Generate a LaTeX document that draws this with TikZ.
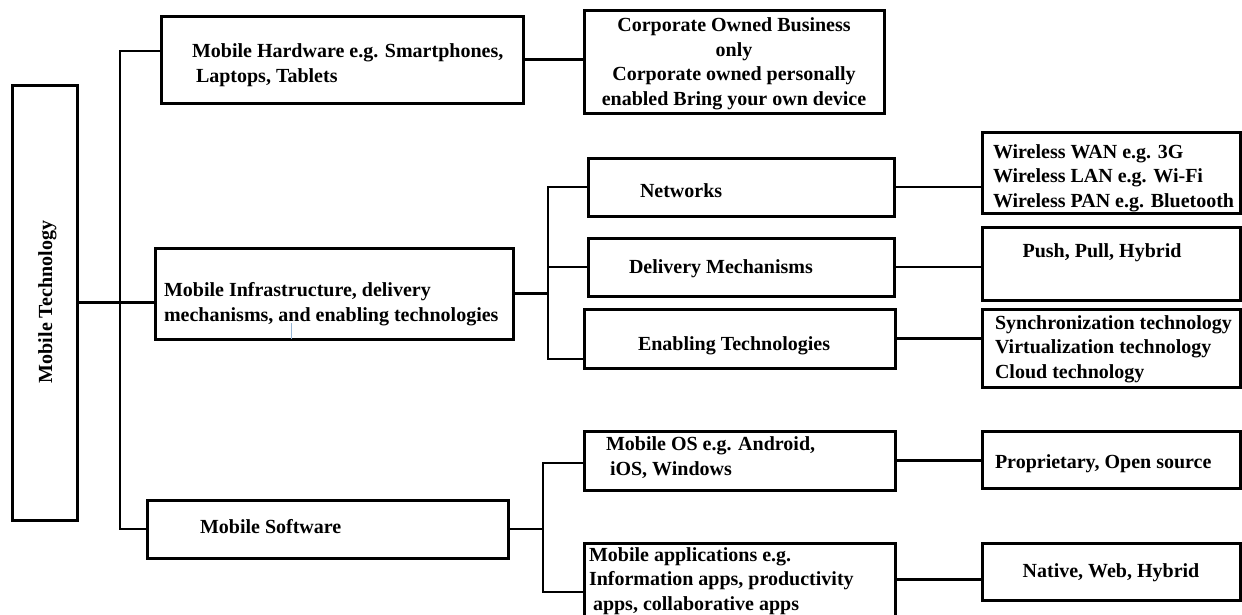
\documentclass[tikz,border=0pt]{standalone}
\usepackage{fontspec}
\setmainfont{Liberation Serif}
\newcommand\mybox[5]{\node[box, minimum width={(#4)-(#2)}, minimum height={(#5)-(#3)}] (#1) at ({((#2)+(#4))/2},{((#3)+(#5))/2}) {};}
\begin{document}
\begin{tikzpicture}[x=1pt,y=-1pt,
  box/.style={draw, line width=3pt, inner sep=0pt, outer sep=0pt},
  conn/.style={line width=2.8pt},
  txt/.style={inner sep=0pt, outer sep=0pt, anchor=base west, align=left, font=\fontsize{20}{24.5}\selectfont\bfseries},
  ctxt/.style={inner sep=0pt, outer sep=0pt, anchor=base, align=center, font=\fontsize{20}{24.5}\selectfont\bfseries}]
\clip (0,0) rectangle (1242,614);
\fill[white] (0,0) rectangle (1242,614);
% boxes
\mybox{root}{12}{85}{77}{520}
\mybox{hw}{161}{16}{523}{103}
\mybox{infra}{155}{248}{513}{339}
\mybox{sw}{147}{500}{508}{558}
\mybox{corp}{584}{10}{884}{113}
\mybox{net}{588}{158}{894}{216}
\mybox{del}{588}{238}{894}{296}
\mybox{ena}{584}{309}{895}{368}
\mybox{os}{584}{431}{895}{490}
\mybox{apps}{584}{543}{895}{616}
\mybox{wl}{982}{132}{1240}{213}
\mybox{push}{982}{227}{1240}{300}
\mybox{sync}{982}{309}{1240}{387}
\mybox{prop}{982}{431}{1240}{488}
\mybox{nat}{982}{543}{1240}{600}
% texts (base anchor = last line's baseline)
\node[ctxt, rotate=90] (troot) at (52,302) {Mobile Technology};
\node[txt] (thw) at (192,82) {Mobile Hardware e.g. Smartphones,\\\hspace*{4pt}Laptops, Tablets};
\node[txt] (tinfra) at (164,321) {Mobile Infrastructure, delivery\\mechanisms, and enabling technologies};
\node[txt] (tsw) at (200,533) {Mobile Software};
\node[ctxt] (tcorp) at (734,105) {Corporate Owned Business\\only\\Corporate owned personally\\enabled Bring your own device};
\node[txt] (tnet) at (640,197) {Networks};
\node[txt] (tdel) at (629,273) {Delivery Mechanisms};
\node[txt] (tena) at (638,350) {Enabling Technologies};
\node[txt] (tos) at (606,475) {Mobile OS e.g. Android,\\\hspace*{4pt}iOS, Windows};
\node[txt] (tapps) at (589,610) {Mobile applications e.g.\\Information apps, productivity\\\hspace*{4pt}apps, collaborative apps};
\node[txt] (twl) at (993,207) {Wireless WAN e.g. 3G\\Wireless LAN e.g. Wi-Fi\\Wireless PAN e.g. Bluetooth};
\node[ctxt] (tpush) at (1102,257) {Push, Pull, Hybrid};
\node[txt] (tsync) at (995,378) {Synchronization technology\\Virtualization technology\\Cloud technology};
\node[txt] (tprop) at (995,468) {Proprietary, Open source};
\node[ctxt] (tnat) at (1111,577) {Native, Web, Hybrid};
% trunk coordinates
\coordinate (t1) at (120,51);
\coordinate (t2) at (120,529);
\coordinate (s1a) at (548,187);
\coordinate (s1b) at (548,359);
\coordinate (s2a) at (543,463);
\coordinate (s2b) at (543,592);
\coordinate (tick) at (291,323);
% connectors
\draw[conn] (root.east) -- (root.east -| infra.west);
\draw[conn] (hw.west |- t1) -- (t1) -- (t2) -- (t2 -| sw.west);
\draw[conn] (infra.east) -- (infra.east -| s1a);
\draw[conn] (net.west |- s1a) -- (s1a) -- (s1b) -- (s1b -| ena.west);
\draw[conn] (del.west) -- (del.west -| s1a);
\draw[conn] (sw.east) -- (sw.east -| s2a);
\draw[conn] (os.west |- s2a) -- (s2a) -- (s2b) -- (s2b -| apps.west);
\draw[conn] (hw.east) -- (hw.east -| corp.west);
\draw[conn] (net.east) -- (net.east -| wl.west);
\draw[conn] (del.east) -- (del.east -| push.west);
\draw[conn] (ena.east) -- (ena.east -| sync.west);
\draw[conn] (os.east) -- (os.east -| prop.west);
\draw[conn] (apps.east) -- (apps.east -| nat.west);
\draw[line width=0.8pt, color={rgb,255:red,150;green,180;blue,210}] (tick) -- (tick |- infra.south);
\end{tikzpicture}
\end{document}
